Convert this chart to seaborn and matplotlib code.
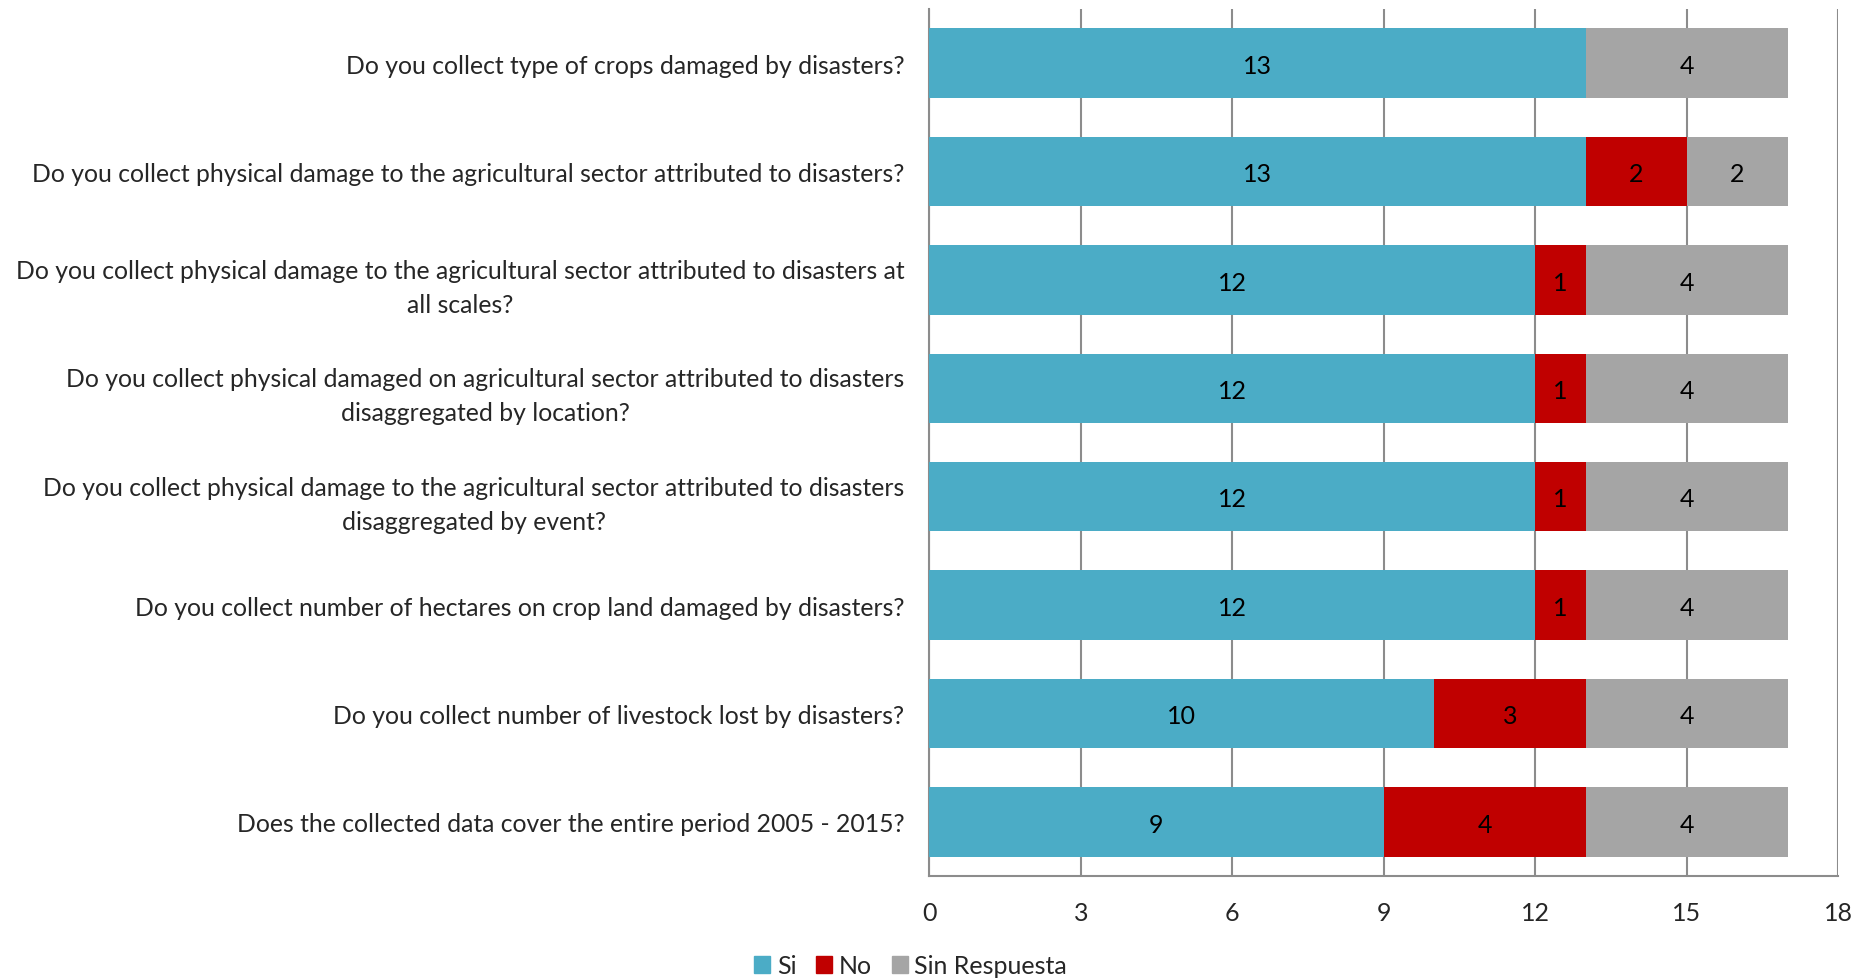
import numpy as np
import pandas as pd
import seaborn as sns
import matplotlib.pyplot as plt

# Survey questions (top to bottom) and answer counts per question
questions = [
    "Do you collect type of crops damaged by disasters?",
    "Do you collect physical damage to the agricultural sector attributed to disasters?",
    "Do you collect physical damage to the agricultural sector attributed to disasters at\nall scales?",
    "Do you collect physical damaged on agricultural sector attributed to disasters\ndisaggregated by location?",
    "Do you collect physical damage to the agricultural sector attributed to disasters\ndisaggregated by event?",
    "Do you collect number of hectares on crop land damaged by disasters?",
    "Do you collect number of livestock lost by disasters?",
    "Does the collected data cover the entire period 2005 - 2015?",
]
si = [13, 13, 12, 12, 12, 12, 10, 9]
no = [0, 2, 1, 1, 1, 1, 3, 4]
sin_resp = [4, 2, 4, 4, 4, 4, 4, 4]

series = ["Si", "No", "Sin Respuesta"]
colors = ["#4BACC6", "#C00000", "#A5A5A5"]
x_ticks = [0, 3, 6, 9, 12, 15, 18]

df = pd.DataFrame({"question": questions, "Si": si, "No": no, "Sin Respuesta": sin_resp})
# cumulative right edges of each stacked segment
df["c_si"] = df["Si"]
df["c_no"] = df["Si"] + df["No"]
df["c_sr"] = df["Si"] + df["No"] + df["Sin Respuesta"]

sns.set_style("white")
plt.rcParams["font.family"] = ["Lato", "DejaVu Sans"]

fig = plt.figure(figsize=(18.66, 9.79), dpi=100)
ax = fig.add_axes([0.498, 0.104, 0.487, 0.886])

# draw longest first so shorter cumulative bars sit on top
for col, color in zip(["c_sr", "c_no", "c_si"], colors[::-1]):
    sns.barplot(data=df, y="question", x=col, orient="h", color=color,
                width=0.64, ax=ax, saturation=1, edgecolor="none", zorder=3)

# segment labels
for i, row in df.iterrows():
    left = 0
    for s in series:
        v = row[s]
        if v > 0:
            ax.text(left + v / 2, i + 0.02, str(v), ha="center", va="center",
                    fontsize=18, color="black", zorder=5)
        left += v

ax.set_xlim(0, 18)
ax.set_xticks(x_ticks)
ax.set_ylim(len(questions) - 0.5, -0.5)
ax.xaxis.grid(True, color="#8C8C8C", linewidth=1.5, zorder=0)
ax.set_axisbelow(True)
ax.set_xlabel("")
ax.set_ylabel("")
for s in ["top", "right"]:
    ax.spines[s].set_visible(False)
for s in ["left", "bottom"]:
    ax.spines[s].set_color("#8C8C8C")
    ax.spines[s].set_linewidth(1.5)
ax.tick_params(axis="x", labelsize=18, pad=18, length=0)
ax.tick_params(axis="y", labelsize=17.8, pad=18, length=0)
for lab in ax.get_yticklabels():
    lab.set_multialignment("center")
    lab.set_linespacing(1.58)

handles = [plt.Rectangle((0, 0), 1, 1, color=c) for c in colors]
fig.legend(handles, series, loc="lower center", bbox_to_anchor=(0.488, -0.022),
           ncol=3, frameon=False, fontsize=18, handlelength=0.65, handleheight=0.65,
           handletextpad=0.25, columnspacing=0.8)

fig.savefig("out.png", dpi=100)
